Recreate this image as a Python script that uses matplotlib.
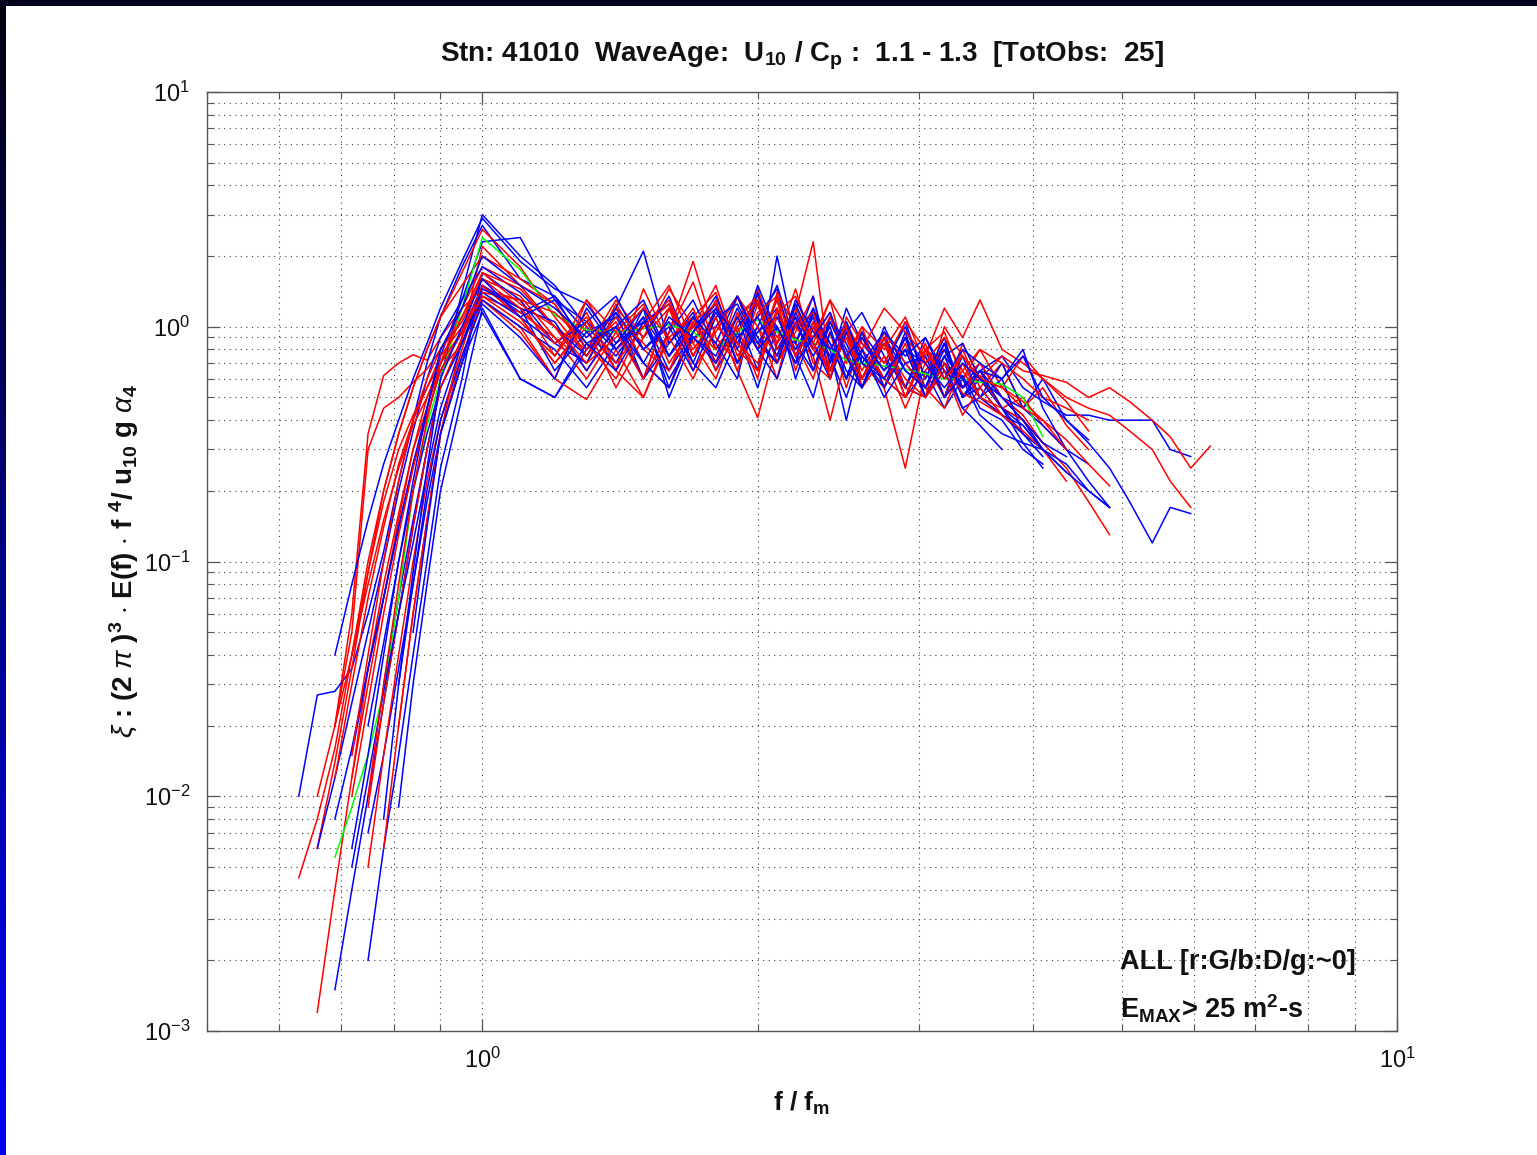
import matplotlib.pyplot as plt
import numpy as np
from matplotlib.colors import LinearSegmentedColormap
from matplotlib.patches import Rectangle
from matplotlib.ticker import LogFormatterSciNotation, LogLocator, NullFormatter

plt.rcParams["font.family"] = ["Liberation Sans", "DejaVu Sans"]
plt.rcParams["mathtext.fontset"] = "custom"
plt.rcParams["mathtext.rm"] = "Liberation Sans"
plt.rcParams["mathtext.it"] = "Liberation Sans:italic"
plt.rcParams["mathtext.bf"] = "Liberation Sans:bold"

# f / f_m sample points shared by all spectra
F_GRID = [0.63, 0.66, 0.69, 0.72, 0.75, 0.78, 0.81, 0.84, 0.87, 0.90, 0.95, 1.00,
          1.1, 1.2, 1.3, 1.4, 1.5, 1.6, 1.7, 1.8, 1.9, 2.0, 2.1, 2.2, 2.3, 2.4, 2.5,
          2.6, 2.75, 2.9, 3.05, 3.2, 3.35, 3.5, 3.7, 3.9, 4.1, 4.35, 4.6, 4.85, 5.1,
          5.4, 5.65, 5.95, 6.25]

# red spectra (r: G) - index into F_GRID where each one starts
RED_START = [2, 1, 1, 0, 1, 3, 4, 2, 5, 3, 2, 4, 6, 3, 3, 4]
RED_01 = [0.02, 0.06, 0.35, 0.62, 0.7, 0.76, 0.72, 0.9, 1.2, 1.45, 1.3, 0.75, 1.15, 0.65, 1.45, 0.85, 1.2, 0.7, 1.35, 0.8, 1.3, 0.65, 1.05, 0.6, 0.95, 0.65, 0.95, 0.55, 0.85, 0.5, 0.8, 0.55, 0.7, 0.45, 0.55, 0.38, 0.3]
RED_02 = [0.01, 0.02, 0.05, 0.3, 0.45, 0.5, 0.58, 0.66, 0.8, 1.1, 1.6, 1.35, 0.9, 0.7, 1.25, 0.8, 0.65, 1.1, 1.4, 0.75, 1.0, 0.6, 1.25, 0.7, 0.6, 1.0, 0.7, 0.55, 0.9, 0.7, 0.5, 0.85, 0.6, 0.75, 0.65, 0.62, 0.58, 0.5, 0.55, 0.48, 0.4, 0.34, 0.25, 0.31]
RED_03 = [0.0012, 0.004, 0.012, 0.035, 0.08, 0.16, 0.3, 0.45, 0.7, 1.2, 1.8, 1.5, 1.0, 0.65, 1.0, 0.6, 1.2, 0.85, 1.3, 0.7, 1.45, 0.85, 1.1, 0.65, 0.95, 0.55, 0.9, 0.6, 0.8, 0.5, 0.7, 0.55, 0.6, 0.45, 0.4, 0.32, 0.25, 0.18, 0.13]
RED_04 = [0.0045, 0.008, 0.016, 0.04, 0.1, 0.2, 0.35, 0.55, 0.8, 1.1, 1.5, 2.0, 1.6, 1.25, 0.8, 1.05, 0.6, 0.95, 1.55, 0.8, 1.1, 1.3, 0.7, 0.95, 1.35, 0.6, 0.95, 0.6, 0.9, 0.5, 0.8, 0.65, 0.55, 0.65, 0.45, 0.5, 0.38, 0.3]
RED_05 = [0.006, 0.014, 0.035, 0.09, 0.2, 0.35, 0.55, 0.8, 1.1, 1.7, 2.6, 1.8, 1.1, 0.75, 1.2, 0.7, 0.55, 1.05, 0.65, 1.15, 0.8, 1.35, 0.85, 0.6, 1.05, 0.75, 0.55, 0.85, 0.5, 0.8, 0.95, 0.6, 0.8, 0.55, 0.75, 0.6, 0.5, 0.45, 0.42, 0.36, 0.3, 0.22, 0.17]
RED_06 = [0.012, 0.03, 0.07, 0.15, 0.3, 0.5, 0.7, 0.95, 1.3, 1.0, 0.6, 1.3, 0.8, 0.5, 0.95, 1.9, 0.9, 0.7, 1.25, 0.85, 1.45, 0.8, 0.65, 1.05, 0.55, 0.75, 0.45, 0.7, 0.8, 0.55, 0.65, 0.5, 0.42, 0.32]
RED_07 = [0.005, 0.015, 0.04, 0.1, 0.22, 0.4, 0.8, 1.5, 1.1, 0.7, 1.0, 0.55, 0.9, 1.2, 0.65, 0.95, 1.35, 1.0, 0.75, 1.15, 2.3, 0.65, 0.95, 0.6, 0.9, 0.5, 0.8, 0.7, 0.6, 0.7, 0.5, 0.42]
RED_08 = [0.02, 0.04, 0.08, 0.15, 0.25, 0.38, 0.5, 0.65, 0.85, 1.35, 1.15, 0.9, 0.6, 0.95, 1.25, 0.7, 1.0, 1.5, 0.8, 0.65, 1.1, 0.9, 0.75, 0.4, 0.75, 0.95, 0.55, 0.85, 0.5, 1.0, 0.75, 0.6, 0.55, 0.48, 0.4, 0.33, 0.26, 0.21]
RED_09 = [0.006, 0.02, 0.06, 0.15, 0.35, 0.75, 1.3, 0.95, 0.6, 0.49, 0.8, 1.0, 1.3, 0.75, 1.1, 0.65, 0.41, 0.85, 1.1, 0.9, 1.3, 0.7, 1.0, 0.55, 0.25, 0.65, 0.8, 0.55, 0.62, 0.45]
RED_10 = [0.01, 0.025, 0.06, 0.13, 0.25, 0.42, 0.65, 0.95, 1.7, 1.45, 1.0, 0.8, 1.3, 0.9, 1.45, 1.0, 0.8, 1.1, 1.35, 0.9, 1.2, 0.85, 1.3, 1.0, 0.8, 1.2, 0.95, 0.75, 1.2, 0.9, 1.3, 0.8, 0.7, 0.6, 0.48, 0.36]
RED_11 = [0.012, 0.03, 0.07, 0.14, 0.26, 0.4, 0.55, 0.75, 1.0, 1.4, 1.3, 1.15, 0.85, 0.6, 1.05, 1.5, 0.85, 0.6, 1.05, 1.25, 0.7, 1.0, 1.15, 0.65, 0.95, 0.8, 0.6, 0.5, 0.75, 0.5, 0.65, 0.5, 0.42, 0.35]
RED_12 = [0.009, 0.025, 0.06, 0.14, 0.3, 0.55, 0.9, 1.5, 1.1, 0.7, 1.05, 0.65, 0.5, 0.9, 1.1, 0.7, 1.0, 0.6, 1.4, 1.0, 0.8, 1.1, 0.75, 0.6, 0.95, 0.7, 0.55, 0.45, 0.7, 0.5, 0.45, 0.4, 0.3, 0.22]
RED_13 = [0.02, 0.06, 0.15, 0.35, 0.9, 2.2, 1.5, 1.25, 0.75, 1.1, 0.85, 0.65, 1.05, 1.25, 0.85, 0.7, 1.15, 1.35, 0.85, 0.65, 0.9, 0.6, 0.85, 0.6, 0.5, 0.65, 0.42, 0.55, 0.42, 0.36, 0.3]
RED_14 = [0.04, 0.09, 0.18, 0.3, 0.42, 0.55, 0.7, 0.95, 1.35, 1.05, 0.75, 1.3, 0.95, 0.6, 1.2, 0.8, 1.1, 0.65, 1.15, 1.35, 0.75, 1.05, 0.8, 1.0, 0.6, 0.85, 0.55, 0.5, 0.7, 0.52, 0.48, 0.42]
RED_15 = [0.015, 0.04, 0.1, 0.22, 0.4, 0.6, 0.8, 1.05, 1.6, 1.2, 0.85, 1.1, 0.7, 1.0, 1.25, 0.75, 1.2, 0.95, 1.3, 0.8, 1.05, 0.9, 1.15, 0.75, 1.0, 0.8, 1.1, 0.7, 0.9, 0.65, 0.8, 0.7, 0.6, 0.5, 0.45, 0.4]
RED_16 = [0.01, 0.03, 0.08, 0.2, 0.4, 0.7, 1.1, 1.7, 1.25, 1.0, 0.7, 0.9, 1.2, 0.9, 0.6, 1.0, 0.85, 0.65, 1.2, 0.75, 1.0, 0.6, 1.1, 0.85, 0.7, 1.05, 0.8, 0.6, 0.75, 0.6, 0.55, 0.45, 0.4, 0.3]

# blue spectra (b: D)
BLUE_START = [0, 2, 4, 6, 4, 2, 1, 3, 5, 4, 2, 6, 3, 7, 3, 5]
BLUE_01 = [0.01, 0.027, 0.028, 0.035, 0.06, 0.11, 0.22, 0.4, 0.7, 1.1, 1.8, 2.7, 1.6, 1.35, 0.8, 1.2, 0.9, 1.35, 0.75, 1.15, 0.85, 1.3, 1.0, 0.7, 1.15, 0.85, 0.6, 0.95, 0.7, 1.0, 0.6, 0.85, 0.55, 0.65, 0.75, 0.55, 0.48, 0.42, 0.42, 0.4, 0.4, 0.4, 0.3, 0.28]
BLUE_02 = [0.0015, 0.004, 0.01, 0.025, 0.06, 0.14, 0.3, 0.6, 1.4, 3.0, 2.0, 1.5, 1.0, 0.75, 1.1, 0.65, 0.95, 1.25, 0.7, 1.0, 1.5, 0.85, 0.65, 1.1, 0.8, 0.55, 0.9, 0.55, 0.8, 0.5, 0.75, 0.5, 0.7, 0.45, 0.6, 0.4, 0.32, 0.25, 0.18, 0.12, 0.17, 0.16]
BLUE_03 = [0.002, 0.006, 0.015, 0.04, 0.1, 0.25, 0.6, 1.7, 1.3, 0.85, 0.7, 1.15, 0.6, 0.95, 1.3, 0.8, 1.1, 0.65, 2.0, 0.85, 1.2, 0.7, 1.0, 0.55, 0.9, 0.65, 0.55, 0.85, 0.5, 0.6, 0.45, 0.35, 0.3]
BLUE_04 = [0.009, 0.03, 0.08, 0.2, 0.5, 1.2, 0.6, 0.5, 0.8, 1.0, 0.6, 0.85, 1.15, 0.65, 0.95, 0.55, 1.0, 0.7, 1.2, 0.8, 0.4, 0.75, 0.55, 0.95, 0.5, 0.75, 0.85, 0.6, 0.45, 0.32, 0.25]
BLUE_05 = [0.007, 0.015, 0.035, 0.08, 0.18, 0.35, 0.7, 1.5, 1.15, 1.35, 0.95, 0.7, 1.2, 0.5, 0.9, 1.0, 1.35, 0.85, 1.15, 0.8, 1.1, 0.65, 0.95, 1.15, 0.75, 0.55, 0.9, 0.65, 0.55, 0.7, 0.5, 0.45, 0.38, 0.3, 0.26]
BLUE_06 = [0.008, 0.016, 0.035, 0.07, 0.14, 0.26, 0.45, 0.75, 1.3, 2.3, 2.4, 1.3, 1.05, 0.8, 1.1, 0.75, 1.0, 1.25, 0.7, 0.95, 1.2, 0.6, 1.0, 0.75, 0.5, 0.8, 0.6, 0.5, 0.65, 0.45, 0.6, 0.42, 0.35, 0.32, 0.3, 0.26, 0.2, 0.17]
BLUE_07 = [0.006, 0.012, 0.025, 0.05, 0.1, 0.2, 0.36, 0.6, 0.9, 1.3, 1.8, 1.4, 1.0, 0.75, 1.2, 2.1, 0.85, 1.1, 0.7, 1.0, 1.25, 0.8, 1.1, 0.85, 0.65, 1.05, 0.75, 0.6, 0.9, 0.55, 0.75, 0.5, 0.65, 0.5, 0.4, 0.32, 0.28]
BLUE_08 = [0.015, 0.035, 0.07, 0.14, 0.26, 0.42, 0.65, 0.95, 1.5, 1.2, 0.65, 0.95, 1.1, 0.7, 0.55, 0.95, 1.35, 0.8, 1.5, 0.95, 0.85, 1.35, 0.7, 1.2, 0.85, 0.65, 1.05, 0.6, 0.9, 0.5, 0.55, 0.42, 0.38, 0.3, 0.24, 0.2, 0.17]
BLUE_09 = [0.03, 0.07, 0.15, 0.3, 0.55, 0.85, 1.3, 1.0, 0.8, 0.55, 0.85, 1.05, 1.25, 0.7, 0.55, 0.9, 1.1, 1.45, 0.75, 1.15, 0.85, 0.6, 0.95, 0.55, 0.8, 0.5, 0.7, 0.45, 0.5, 0.6, 0.35, 0.28]
BLUE_10 = [0.02, 0.045, 0.1, 0.2, 0.35, 0.55, 0.85, 1.4, 1.1, 0.85, 1.05, 1.35, 0.8, 1.0, 0.65, 1.1, 1.25, 0.85, 0.7, 1.15, 0.8, 1.1, 0.85, 0.6, 0.95, 0.7, 0.55, 0.8, 0.55, 0.65, 0.6, 0.8, 0.45, 0.3, 0.22, 0.17]
BLUE_11 = [0.04, 0.08, 0.15, 0.26, 0.4, 0.6, 0.85, 1.2, 1.9, 2.9, 1.9, 1.45, 1.25, 0.85, 1.2, 0.75, 1.1, 0.85, 1.35, 0.9, 0.7, 1.25, 0.85, 0.6, 0.95, 0.7, 0.6, 0.9, 0.5, 0.75, 0.6, 0.5, 0.42, 0.35]
BLUE_12 = [0.03, 0.08, 0.2, 0.4, 0.75, 1.25, 0.9, 0.6, 1.2, 0.8, 1.1, 0.55, 0.95, 1.2, 0.7, 0.95, 1.1, 0.75, 0.5, 0.95, 0.65, 0.55, 0.85, 0.55, 0.5, 0.65, 0.45, 0.38, 0.3]
BLUE_13 = [0.005, 0.012, 0.028, 0.06, 0.12, 0.24, 0.45, 0.85, 1.45, 1.2, 1.05, 0.65, 1.0, 1.3, 0.75, 1.1, 0.85, 0.6, 1.4, 0.8, 1.1, 0.65, 1.05, 0.75, 0.55, 1.0, 0.65, 0.55, 0.85, 0.5, 0.65, 0.45, 0.38, 0.3, 0.24]
BLUE_14 = [0.05, 0.14, 0.35, 0.7, 1.15, 0.6, 0.5, 0.85, 0.65, 1.05, 0.6, 0.9, 0.7, 1.1, 0.8, 0.6, 1.05, 0.75, 1.0, 0.6, 0.8, 0.5, 0.7, 0.75, 0.5, 0.62, 0.45, 0.4, 0.3, 0.26]
BLUE_15 = [0.006, 0.015, 0.04, 0.1, 0.22, 0.45, 0.8, 1.2, 2.0, 1.5, 1.2, 0.9, 1.15, 0.8, 1.05, 0.7, 1.2, 0.9, 1.1, 0.75, 1.3, 0.95, 0.8, 1.05, 0.7, 0.95, 0.75, 0.9, 0.6, 0.8, 0.7, 0.6, 0.75, 0.5, 0.4, 0.33]
BLUE_16 = [0.008, 0.03, 0.09, 0.25, 0.6, 1.0, 1.6, 1.1, 1.3, 0.85, 1.0, 0.7, 1.1, 0.9, 0.75, 1.2, 0.8, 1.0, 0.7, 0.9, 1.15, 0.75, 0.9, 0.65, 0.8, 0.7, 0.55, 0.7, 0.6, 0.5, 0.4, 0.3]

# green spectrum (g: ~0)
GREEN_START = 2
GREEN_01 = [0.0055, 0.009, 0.015, 0.028, 0.07, 0.2, 0.38, 0.6, 1.2, 2.4, 1.75, 1.12, 0.97, 0.95, 0.98, 1.02, 0.95, 0.8, 0.95, 1.07, 0.95, 0.88, 0.85, 0.8, 0.72, 0.7, 0.68, 0.66, 0.63, 0.6, 0.6, 0.58, 0.57, 0.5, 0.34]

RED_CURVES = [RED_01, RED_02, RED_03, RED_04, RED_05, RED_06, RED_07, RED_08,
              RED_09, RED_10, RED_11, RED_12, RED_13, RED_14, RED_15, RED_16]
BLUE_CURVES = [BLUE_01, BLUE_02, BLUE_03, BLUE_04, BLUE_05, BLUE_06, BLUE_07, BLUE_08,
               BLUE_09, BLUE_10, BLUE_11, BLUE_12, BLUE_13, BLUE_14, BLUE_15, BLUE_16]

RED = "#ff0000"
BLUE = "#0000ff"
GREEN = "#00ff00"
FRAME = "#555555"
INK = "#111111"
W, H = 1537, 1155


def draw_spectrum(ax, start, vals, color):
    x = F_GRID[start:start + len(vals)]
    ax.plot(x, vals[:len(x)], color=color, lw=1.1)


def main():
    fig = plt.figure(figsize=(W / 100, H / 100), dpi=100)
    fig.patch.set_facecolor("white")

    # dark slide frame: top strip and a black-to-blue strip down the left side
    fig.add_artist(Rectangle((0, 1 - 6 / H), 1, 6 / H, transform=fig.transFigure,
                             facecolor="#00001a", edgecolor="none"))
    band = fig.add_axes([0, 0, 6 / W, 1 - 6 / H])
    cmap = LinearSegmentedColormap.from_list("slide", ["#000010", "#0000ff"])
    band.imshow(np.linspace(0, 1, 256)[:, None], aspect="auto", cmap=cmap)
    band.axis("off")

    ax = fig.add_axes([207 / W, 1 - 1031 / H, 1190 / W, 939 / H])
    ax.set_xscale("log")
    ax.set_yscale("log")
    ax.set_xlim(0.5, 10)
    ax.set_ylim(1e-3, 1e1)

    for i in range(len(RED_CURVES)):
        draw_spectrum(ax, RED_START[i], RED_CURVES[i], RED)
        draw_spectrum(ax, BLUE_START[i], BLUE_CURVES[i], BLUE)
        if i == 8:
            draw_spectrum(ax, GREEN_START, GREEN_01, GREEN)

    ax.xaxis.set_major_locator(LogLocator(base=10, numticks=10))
    ax.xaxis.set_minor_locator(LogLocator(base=10, subs=np.arange(2, 10), numticks=20))
    ax.yaxis.set_major_locator(LogLocator(base=10, numticks=10))
    ax.yaxis.set_minor_locator(LogLocator(base=10, subs=np.arange(2, 10), numticks=20))
    ax.xaxis.set_major_formatter(LogFormatterSciNotation())
    ax.xaxis.set_minor_formatter(NullFormatter())
    ax.yaxis.set_minor_formatter(NullFormatter())

    ax.grid(True, which="both", linestyle=(0, (1, 4)), color="#404040", lw=0.8)
    ax.tick_params(which="both", direction="in", top=True, right=True, colors=FRAME,
                   labelcolor=INK, labelsize=17)
    ax.tick_params(which="major", length=9, width=0.9, pad=12)
    ax.tick_params(which="minor", length=5, width=0.8)
    for s in ax.spines.values():
        s.set_color(FRAME)
        s.set_linewidth(1.0)

    ax.set_title(r"Stn: 41010  WaveAge:  $\mathbf{U_{10}}$ / $\mathbf{C_p}$ :  1.1 - 1.3  [TotObs:  25]",
                 fontsize=20, fontweight="bold", color=INK, pad=22)
    ax.set_xlabel(r"f / f$_{\mathbf{m}}$", fontsize=19, fontweight="bold", color=INK, labelpad=12)
    ax.set_ylabel(r"$\xi$ : (2 $\pi$ )$^{\mathbf{3}}$ $\cdot$ E(f) $\cdot$ f $^{\mathbf{4}}$/ u$_{\mathbf{10}}$ g $\alpha_{\mathbf{4}}$",
                  fontsize=20, fontweight="bold", color=INK, labelpad=2)

    ax.text(0.767, 0.0735, "ALL [r:G/b:D/g:~0]", transform=ax.transAxes, fontsize=19.5,
            fontweight="bold", va="center", color=INK)
    ax.text(0.767, 0.024, r"E$_{\mathbf{MAX}}$> 25 m$^{\mathbf{2}}$-s", transform=ax.transAxes,
            fontsize=19.5, fontweight="bold", va="center", color=INK)

    fig.savefig("out.png", dpi=100, facecolor="white")
    plt.close(fig)


if __name__ == "__main__":
    main()
